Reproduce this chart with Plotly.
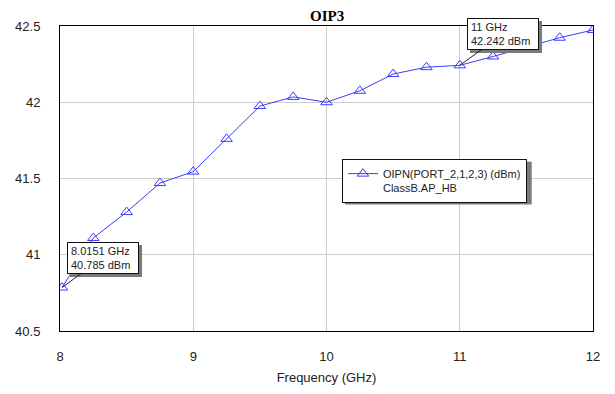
import plotly.graph_objects as go

freq_ghz = [8.0151, 8.25, 8.5, 8.75, 9.0, 9.25, 9.5, 9.75, 10.0, 10.25, 10.5, 10.75, 11.0, 11.25, 11.5, 11.75, 12.0]
oip3_dbm = [40.785, 41.11, 41.28, 41.47, 41.545, 41.76, 41.975, 42.035, 42.0, 42.075, 42.185, 42.23, 42.242, 42.30, 42.36, 42.423, 42.474]
x_ticks = [8, 9, 10, 11, 12]
y_ticks = [40.5, 41, 41.5, 42, 42.5]
y_tick_text = ["40.5", "41", "41.5", "42", "42.5"]
series_name = "OIPN(PORT_2,1,2,3) (dBm)<br>ClassB.AP_HB"
marker_labels = [("8.0151 GHz", "40.785 dBm", 8.0151, 40.785, 41, -30),
                 ("11 GHz", "42.242 dBm", 11.0, 42.242, 43, -31)]

BLUE = "#3c3cff"
FONT = "Liberation Sans, Arial"
fig = go.Figure()
fig.add_trace(go.Scatter(
    x=freq_ghz, y=oip3_dbm, mode="lines+markers", name=series_name,
    line=dict(color=BLUE, width=1),
    marker=dict(symbol="triangle-up-open", size=10, color=BLUE, line=dict(width=1, color=BLUE)),
))

annotations = []
for l1, l2, xv, yv, ax, ay in marker_labels:
    txt = f"{l1}<br>{l2}"
    # drop shadow box (no text)
    annotations.append(dict(x=xv, y=yv, xref="x", yref="y", text=" ", showarrow=True,
                            ax=ax, ay=ay, arrowcolor="rgba(0,0,0,0)", arrowwidth=0.1,
                            xshift=3, yshift=-3, width=64, height=24,
                            bgcolor="#7a7a7a", bordercolor="#7a7a7a", borderwidth=1, borderpad=3))
    annotations.append(dict(x=xv, y=yv, xref="x", yref="y", text=txt, showarrow=True,
                            ax=ax, ay=ay, arrowcolor="#222222", arrowwidth=1, arrowhead=0,
                            align="left", width=64, height=24,
                            font=dict(family=FONT, size=11, color="#222222"),
                            bgcolor="white", bordercolor="#111111", borderwidth=1, borderpad=3))

annotations.append(dict(text="<b>OIP3</b>", x=0.5, y=1.0, xref="paper", yref="paper", yshift=10,
                        showarrow=False, xanchor="center", yanchor="middle",
                        font=dict(family="Liberation Serif, Times New Roman", size=15, color="black")))

fig.update_layout(
    width=615, height=394,
    margin=dict(l=52, r=30, t=18, b=71),
    paper_bgcolor="white", plot_bgcolor="white",
    annotations=annotations,
    showlegend=True,
    legend=dict(x=0.529, y=0.564, xanchor="left", yanchor="top",
                bgcolor="white", bordercolor="#111111", borderwidth=1,
                font=dict(family=FONT, size=11, color="#222222"),
                valign="top", itemwidth=30, tracegroupgap=0),
    shapes=[dict(type="rect", xref="paper", yref="paper", x0=0.535, x1=0.885, y0=0.415, y1=0.555,
                 fillcolor="#7a7a7a", line=dict(width=0), layer="above")],
    xaxis=dict(range=[8, 12], tickvals=x_ticks, ticks="", showline=True, mirror=True,
               linecolor="black", linewidth=1, showgrid=True, gridcolor="#cccccc", gridwidth=1,
               zeroline=False, ticklabelstandoff=13, automargin=False,
               tickfont=dict(family=FONT, size=13, color="#222222"),
               title=dict(text="Frequency (GHz)", standoff=10,
                          font=dict(family=FONT, size=13, color="#222222"))),
    yaxis=dict(range=[40.5, 42.5], tickvals=y_ticks, ticktext=y_tick_text, ticks="",
               showline=True, mirror=True, linecolor="black", linewidth=1, showgrid=True,
               gridcolor="#cccccc", gridwidth=1, zeroline=False, ticklabelstandoff=16,
               automargin=False,
               tickfont=dict(family=FONT, size=13, color="#222222")),
)

fig.write_html("out.html")
